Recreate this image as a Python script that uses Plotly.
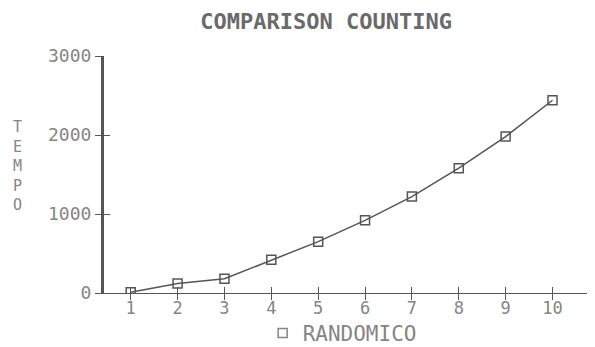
import plotly.graph_objects as go

x_vals = [1, 2, 3, 4, 5, 6, 7, 8, 9, 10]
tempo = [10, 120, 180, 420, 650, 920, 1220, 1580, 1980, 2440]
y_ticks = [0, 1000, 2000, 3000]
series_name = "RANDOMICO"
title_text = "COMPARISON COUNTING"
y_title = "TEMPO"

FONT = "DejaVu Sans Mono"
GRAY = "#858585"
DARK = "#555555"

fig = go.Figure()
fig.add_trace(go.Scatter(
    x=x_vals, y=tempo, mode="lines+markers", name=series_name,
    line=dict(color=DARK, width=1.5),
    marker=dict(symbol="square-open", size=9, color=DARK, line=dict(width=1.5)),
    showlegend=False,
))
# legend entry: marker only
fig.add_trace(go.Scatter(
    x=[None], y=[None], mode="markers", name=series_name,
    marker=dict(symbol="square-open", size=9, color=GRAY, line=dict(width=1.5)),
))
# invisible trace to activate secondary overlay axes for crossing ticks
fig.add_trace(go.Scatter(x=[x_vals[0]], y=[0], xaxis="x2", yaxis="y2",
                         mode="markers", marker=dict(opacity=0),
                         showlegend=False, hoverinfo="skip"))

xr = [0.43, 10.8]
yr = [0, 3000]
fig.update_layout(
    width=587, height=339,
    paper_bgcolor="white", plot_bgcolor="white",
    margin=dict(l=96, r=5, t=48, b=54, autoexpand=False),
    title=dict(text="<b>" + title_text + "</b>", x=0.542, xanchor="center",
               y=0.96, yanchor="middle",
               font=dict(family=FONT, size=22, color="#6a6a6a")),
    xaxis=dict(range=xr, tickvals=x_vals, ticks="inside", ticklen=6,
               tickcolor=DARK, tickwidth=1, showgrid=False, zeroline=False,
               showline=True, linecolor=DARK, linewidth=1, automargin=False,
               tickfont=dict(family=FONT, size=17, color=GRAY)),
    xaxis2=dict(range=xr, overlaying="x", tickvals=x_vals, ticks="outside",
                ticklen=6, tickcolor=DARK, showticklabels=False, automargin=False,
                showgrid=False, zeroline=False, showline=False, side="bottom"),
    yaxis=dict(range=yr, tickvals=y_ticks, ticks="outside", ticklen=6,
               tickcolor=DARK, showgrid=False, zeroline=False, automargin=False,
               showline=True, linecolor=DARK, linewidth=3,
               tickfont=dict(family=FONT, size=18, color=GRAY)),
    yaxis2=dict(range=yr, overlaying="y", tickvals=y_ticks, ticks="inside",
                ticklen=6, tickcolor=DARK, showticklabels=False, automargin=False,
                showgrid=False, zeroline=False, showline=False, side="left"),
    showlegend=True,
    legend=dict(orientation="h", x=0.49, xanchor="center",
                yref="container", y=0.04, yanchor="middle",
                bgcolor="rgba(0,0,0,0)",
                font=dict(family=FONT, size=21, color=GRAY)),
    annotations=[dict(text="<br>".join(list(y_title)), xref="paper",
                      yref="paper", x=-0.177, y=0.536, showarrow=False,
                      xanchor="center", yanchor="middle",
                      font=dict(family=FONT, size=15, color=GRAY))],
)
fig.write_html("out.html")
